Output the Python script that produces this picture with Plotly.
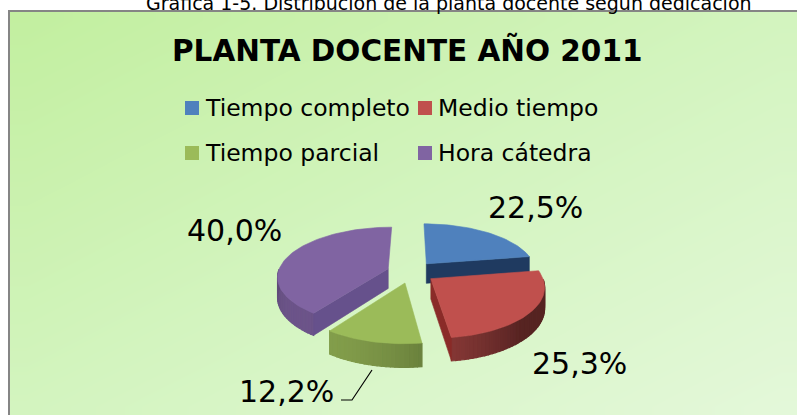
import numpy as np
import plotly.graph_objects as go

# ---------------- data ----------------
categories = ["Tiempo completo", "Medio tiempo", "Tiempo parcial", "Hora cátedra"]
values = [22.5, 25.3, 12.2, 40.0]
title_text = "PLANTA DOCENTE AÑO 2011"
caption_text = "Gráfica 1-5. Distribución de la planta docente según dedicación"

# ---------------- style ----------------
top_colors = ["#4F81BD", "#C0504D", "#9BBB59", "#8064A2"]
cut_colors = ["#1F3A60", "#8A2B28", "#7A9640", "#66518C"]
FONT = "DejaVu Sans"

W, H = 797, 415
CX, CY = 411, 272          # pie centre (px)
RX, RY = 110, 50           # ellipse radii (px)
K = 0.15                   # pseudo perspective
DEPTH = 20                 # thickness (px)
EXPLODE = 0.22             # explode distance (fraction of radius)


def proj(X, Y, z):
    s = 1 + K * Y
    return CX + X * RX * s, CY + (Y * RY + z * DEPTH) * s


def hex2rgb(h):
    h = h.lstrip("#")
    return tuple(int(h[i:i + 2], 16) for i in (0, 2, 4))


def shade(h, f):
    r, g, b = hex2rgb(h)
    return "rgb(%d,%d,%d)" % (min(255, r * f), min(255, g * f), min(255, b * f))


fig = go.Figure()

# background gradient of the chart area
N = 24
xe = np.linspace(10, W, N + 1)
ye = np.linspace(12, H, N + 1)
uc = (np.arange(N) + 0.5) / N
z = [[(uc[j] + uc[i]) / 2 for j in range(N)] for i in range(N)]
fig.add_trace(go.Heatmap(
    x=xe, y=ye, z=z, zsmooth="best", showscale=False, hoverinfo="skip",
    zmin=0, zmax=1,
    colorscale=[[0, "rgb(194,239,159)"], [0.5, "rgb(211,244,191)"], [1, "rgb(228,248,218)"]],
))


def add_poly(pts, color, lw):
    xs, ys = zip(*[proj(*p) for p in pts])
    xs = list(xs) + [xs[0]]
    ys = list(ys) + [ys[0]]
    fig.add_trace(go.Scatter(
        x=xs, y=ys, mode="lines", fill="toself", fillcolor=color,
        line=dict(color=color, width=lw), hoverinfo="skip", showlegend=False,
    ))


# slice geometry
total = sum(values)
slices = []
start = 0.0
for i, v in enumerate(values):
    a0 = start
    a1 = start + 360.0 * v / total
    start = a1
    am = np.radians((a0 + a1) / 2)
    ox, oy = EXPLODE * np.sin(am), -EXPLODE * np.cos(am)
    slices.append((oy, i, a0, a1, ox))

for oy, i, a0, a1, ox in sorted(slices):
    n = max(int((a1 - a0) / 2) + 2, 4)
    th = np.linspace(a0, a1, n)
    tr = np.radians(th)
    ax = ox + np.sin(tr)
    ay = oy - np.cos(tr)
    # outer wall
    for j in range(n - 1):
        phi = np.radians((th[j] + th[j + 1]) / 2)
        if -np.cos(phi) > 0:
            f = 0.45 + 0.4 * max(0.0, np.cos(phi - np.radians(225)))
            add_poly([(ax[j], ay[j], 0), (ax[j + 1], ay[j + 1], 0),
                      (ax[j + 1], ay[j + 1], 1), (ax[j], ay[j], 1)],
                     shade(top_colors[i], f), 1.2)
    # radial cut faces
    for edge, normal in ((a0, a0 - 90), (a1, a1 + 90)):
        if -np.cos(np.radians(normal)) > 0.02:
            px = ox + np.sin(np.radians(edge))
            py = oy - np.cos(np.radians(edge))
            add_poly([(ox, oy, 0), (px, py, 0), (px, py, 1), (ox, oy, 1)], cut_colors[i], 0.6)
    # top face
    add_poly([(ox, oy, 0)] + [(ax[j], ay[j], 0) for j in range(n)], top_colors[i], 0.6)

# ---------------- texts ----------------
ann = []
ann.append(dict(x=449, y=16, text=caption_text, showarrow=False, xanchor="center",
                yanchor="bottom", font=dict(family=FONT, size=19, color="black")))
ann.append(dict(x=407, y=50, text="<b>%s</b>" % title_text, showarrow=False,
                xanchor="center", yanchor="middle", font=dict(family=FONT, size=29.5, color="black")))

# legend (2 x 2)
leg_pos = [(185, 108), (418, 108), (185, 153), (418, 153)]
shapes = []
for (lx, ly), cat, col in zip(leg_pos, categories, top_colors):
    shapes.append(dict(type="rect", x0=lx, x1=lx + 14, y0=ly - 7, y1=ly + 7,
                       fillcolor=col, line=dict(width=0), layer="above"))
    ann.append(dict(x=lx + 18, y=ly, text=cat, showarrow=False, xanchor="left",
                    yanchor="middle", font=dict(family=FONT, size=23.5, color="black")))

# data labels
lab_pos = [(535, 207), (579, 363), (286, 391), (234, 230)]
for (lx, ly), v in zip(lab_pos, values):
    ann.append(dict(x=lx, y=ly, text=("%.1f%%" % v).replace(".", ","), showarrow=False,
                    xanchor="center", yanchor="middle",
                    font=dict(family=FONT, size=30, color="black")))

# leader line for small slice label
shapes.append(dict(type="path", path="M 341 400 L 352 400 L 372 370",
                   line=dict(color="black", width=1.2), layer="above"))

# chart border
shapes.append(dict(type="line", x0=9, x1=9, y0=10, y1=H, line=dict(color="#858585", width=2), layer="above"))
shapes.append(dict(type="line", x0=8, x1=W, y0=11, y1=11, line=dict(color="#858585", width=2), layer="above"))

fig.update_layout(
    width=W, height=H, margin=dict(l=0, r=0, t=0, b=0, pad=0),
    paper_bgcolor="white", plot_bgcolor="white",
    xaxis=dict(range=[0, W], visible=False, fixedrange=True),
    yaxis=dict(range=[H, 0], visible=False, fixedrange=True),
    showlegend=False, annotations=ann, shapes=shapes,
)

fig.write_html("out.html", config={"displayModeBar": False},
               post_script="document.body.style.margin='0px';document.body.style.overflow='hidden';")
